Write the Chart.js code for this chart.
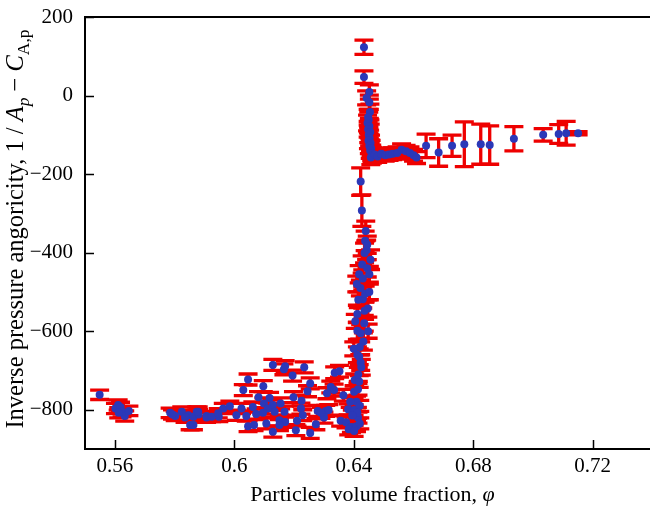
<!DOCTYPE html>
<html>
<head>
<meta charset="utf-8">
<script src="https://cdn.jsdelivr.net/npm/chart.js@4.4.1/dist/chart.umd.min.js"></script>
<style>
  html, body { margin: 0; padding: 0; background: #fff; }
  #wrap { width: 652px; height: 507px; }
</style>
</head>
<body>
<div id="wrap"><canvas id="chart"></canvas></div>
<script>
// volume fraction (x), inverse angoricity (y), half error (±)
const phi = [
  0.5549, 0.5611, 0.5602, 0.5619, 0.5624, 0.5633, 0.5613, 0.5647,
  0.5785, 0.5802, 0.5824, 0.5846, 0.5874, 0.5863, 0.5852, 0.5863, 0.5907, 0.5793, 0.5835, 0.5880,
  0.6129, 0.6170, 0.6166, 0.6234, 0.6195, 0.6046, 0.6097, 0.6030, 0.6254, 0.6245, 0.6310,
  0.6081, 0.6118, 0.6198, 0.6225, 0.6155, 0.6099, 0.6129, 0.6112, 0.5963, 0.5985, 0.6024,
  0.6062, 0.6168, 0.6223, 0.6279, 0.6306, 0.5879, 0.5907, 0.5948, 0.6007, 0.6040, 0.6073,
  0.6096, 0.6135, 0.6229, 0.6151, 0.6170, 0.6210, 0.6107, 0.6046, 0.6066, 0.6151, 0.6273,
  0.6129, 0.6206, 0.6254, 0.5924, 0.5946,
  0.6336, 0.6352, 0.6323, 0.6334, 0.6365, 0.6401, 0.6414, 0.6409, 0.6316, 0.6381, 0.6401,
  0.6414, 0.6356, 0.6374, 0.6392, 0.6409, 0.6383, 0.6401, 0.6403, 0.6418, 0.6420, 0.6412,
  0.6395, 0.6420, 0.6388, 0.6300, 0.6290,
  0.6423, 0.6427, 0.6443, 0.6436, 0.6456, 0.6418, 0.6430, 0.6430, 0.6447, 0.6436, 0.6412,
  0.6412, 0.6423, 0.6432, 0.6412, 0.6418, 0.6423, 0.6425, 0.6440, 0.6438, 0.6428, 0.6422,
  0.6435, 0.6420, 0.6438, 0.6415, 0.6445,
  0.6410, 0.6452, 0.6405, 0.6448, 0.6400, 0.6452, 0.6445, 0.6415,
  0.6434, 0.6434, 0.6452, 0.6443, 0.6452, 0.6454, 0.6448, 0.6450, 0.6446, 0.6452, 0.6448,
  0.6455, 0.6450, 0.6453, 0.6449, 0.6456, 0.6452, 0.6458, 0.6455, 0.6460, 0.6462, 0.6457,
  0.6470, 0.6480, 0.6492, 0.6505, 0.6518, 0.6530, 0.6545, 0.6560, 0.6575, 0.6588, 0.6600, 0.6610,
  0.6642, 0.6684, 0.6729, 0.6770, 0.6825, 0.6855, 0.6936, 0.7034, 0.7086, 0.7111, 0.7151
];
const angoricity = [
  -762, -788, -797, -794, -805, -816, -808, -803,
  -808, -816, -805, -814, -805, -818, -839, -839, -816, -812, -820, -812,
  -686, -689, -697, -692, -713, -723, -740, -750, -733, -753, -758,
  -768, -770, -768, -777, -784, -784, -788, -797, -797, -791, -797,
  -793, -805, -797, -803, -803, -805, -820, -818, -814, -816, -811,
  -808, -805, -814, -827, -831, -828, -835, -842, -839, -839, -837,
  -856, -852, -859, -818, -809,
  -706, -702, -742, -750, -763, -754, -748, -780, -801, -799, -801,
  -820, -828, -832, -844, -842, -850, -854, -724, -728, -790, -808,
  -815, -835, -780, -820, -808,
  -219, -293, -393, -401, -418, -455, -466, -519, -542, -548, -556,
  -599, -605, -626, -660, -665, -680, -692, -345, -370, -430, -490,
  -580, -640, -505, -710, -440,
  -480, -455, -575, -600, -645, -500, -380, -520,
  123, 47, 9, -6, -17, -42, -55, -62, -70, -78, -86,
  -93, -100, -108, -115, -121, -128, -134, -140, -146, -152, -158,
  -150, -155, -148, -152, -150, -148, -146, -138, -142, -146, -152, -158,
  -128, -145, -128, -124, -124, -126, -110, -100, -98, -96, -96
];
const errs = [
  12, 13, 13, 13, 13, 13, 13, 12,
  12, 12, 12, 12, 12, 12, 12, 12, 12, 12, 12, 12,
  14, 14, 14, 14, 14, 14, 14, 14, 14, 14, 14,
  14, 14, 14, 14, 14, 14, 14, 14, 13, 13, 13,
  13, 14, 14, 14, 14, 12, 12, 12, 13, 13, 13,
  13, 14, 14, 14, 14, 14, 14, 14, 14, 14, 14,
  14, 14, 14, 12, 12,
  15, 15, 15, 15, 15, 15, 15, 15, 14, 14, 14,
  14, 14, 14, 14, 14, 14, 14, 15, 15, 14, 14,
  14, 14, 14, 14, 14,
  35, 40, 25, 25, 25, 22, 22, 22, 22, 22, 22,
  22, 22, 22, 20, 20, 20, 20, 25, 25, 22, 20,
  20, 20, 20, 18, 22,
  20, 20, 18, 18, 18, 20, 22, 20,
  18, 16, 18, 18, 18, 20, 20, 20, 20, 20, 20,
  20, 20, 20, 20, 20, 20, 20, 20, 20, 20, 18,
  15, 15, 15, 15, 15, 15, 15, 15, 15, 15, 15, 15,
  30, 35, 27, 57, 51, 49, 31, 16, 24, 30, 4
];
const xTicks = [0.56, 0.6, 0.64, 0.68, 0.72];
const yTicks = [-800, -600, -400, -200, 0, 200];

const RED = '#ee0000';
const BLUE = '#2b38b8';
const FONT = "'Liberation Serif', 'Times New Roman', serif";
Chart.defaults.font.family = FONT;

const errorBars = {
  id: 'errorBars',
  beforeDatasetsDraw(chart) {
    const { ctx, chartArea: a, scales: { x, y } } = chart;
    ctx.save();
    ctx.beginPath();
    ctx.rect(a.left, a.top, a.right - a.left, a.bottom - a.top);
    ctx.clip();
    ctx.strokeStyle = RED;
    ctx.lineWidth = 3.3;
    phi.forEach((v, i) => {
      const px = x.getPixelForValue(v);
      const top = y.getPixelForValue(angoricity[i] + errs[i]);
      const bot = y.getPixelForValue(angoricity[i] - errs[i]);
      ctx.beginPath();
      ctx.moveTo(px, top); ctx.lineTo(px, bot);
      ctx.moveTo(px - 9.5, top); ctx.lineTo(px + 9.5, top);
      ctx.moveTo(px - 9.5, bot); ctx.lineTo(px + 9.5, bot);
      ctx.stroke();
    });
    ctx.restore();
  }
};

// frame, inward ticks, axis titles
function drawParts(ctx, parts, x0, y0) {
  let w = 0;
  parts.forEach(p => { ctx.font = p.font; w += ctx.measureText(p.t).width; });
  let cx = x0 - w / 2;
  parts.forEach(p => {
    ctx.font = p.font;
    ctx.fillText(p.t, cx, y0 + (p.dy || 0));
    cx += ctx.measureText(p.t).width;
  });
}

const frame = {
  id: 'frame',
  afterDraw(chart) {
    const { ctx, chartArea: a, scales: { x, y } } = chart;
    ctx.save();
    ctx.strokeStyle = '#000';
    ctx.lineWidth = 2;
    ctx.beginPath();
    ctx.moveTo(a.right + 2, a.top);
    ctx.lineTo(a.left, a.top);
    ctx.lineTo(a.left, a.bottom);
    ctx.lineTo(a.right + 2, a.bottom);
    ctx.stroke();
    ctx.lineWidth = 1.5;
    ctx.beginPath();
    xTicks.forEach(v => {
      const px = Math.round(x.getPixelForValue(v)) + 0.5;
      ctx.moveTo(px, a.bottom); ctx.lineTo(px, a.bottom - 9);
    });
    yTicks.forEach(v => {
      const py = Math.round(y.getPixelForValue(v)) + 0.5;
      ctx.moveTo(a.left, py); ctx.lineTo(a.left + 9, py);
    });
    ctx.stroke();

    ctx.fillStyle = '#000';
    ctx.textBaseline = 'alphabetic';
    ctx.textAlign = 'left';
    drawParts(ctx, [
      { t: 'Particles volume fraction, ', font: '22px ' + FONT },
      { t: 'φ', font: 'italic 22px ' + FONT }
    ], (a.left + a.right) / 2 + 6, 501);

    ctx.translate(23, 229);
    ctx.rotate(-Math.PI / 2);
    drawParts(ctx, [
      { t: 'Inverse pressure angoricity, 1 / ', font: '24.5px ' + FONT },
      { t: 'A', font: 'italic 24.5px ' + FONT },
      { t: 'p', font: 'italic 17.5px ' + FONT, dy: 6 },
      { t: ' \u2212 ', font: '24.5px ' + FONT },
      { t: 'C', font: 'italic 24.5px ' + FONT },
      { t: 'A,p', font: '17.5px ' + FONT, dy: 6 }
    ], 0, 0);
    ctx.restore();
  }
};

new Chart(document.getElementById('chart'), {
  type: 'scatter',
  data: {
    datasets: [{
      data: phi.map((v, i) => ({ x: v, y: angoricity[i] })),
      backgroundColor: BLUE,
      borderWidth: 0,
      pointRadius: 4,
      pointHoverRadius: 4
    }]
  },
  options: {
    responsive: true,
    maintainAspectRatio: false,
    animation: false,
    layout: { padding: { top: 17, right: 0, left: 0, bottom: 0 } },
    plugins: { legend: { display: false }, tooltip: { enabled: false } },
    scales: {
      x: {
        type: 'linear',
        min: 0.55, max: 0.7385,
        grid: { display: false, drawTicks: false },
        border: { display: false },
        afterFit: s => { s.height = 58; s.paddingLeft = 0; s.paddingRight = 0; },
        afterBuildTicks: s => { s.ticks = xTicks.map(v => ({ value: v })); },
        ticks: {
          color: '#000', padding: 5,
          font: { family: FONT, size: 21 },
          callback: v => String(v)
        }
      },
      y: {
        min: -900, max: 200,
        grid: { display: false, drawTicks: false },
        border: { display: false },
        afterFit: s => { s.width = 85; s.paddingTop = 0; s.paddingBottom = 0; },
        afterBuildTicks: s => { s.ticks = yTicks.map(v => ({ value: v })); },
        ticks: {
          color: '#000', padding: 12,
          font: { family: FONT, size: 21 },
          callback: v => String(v).replace('-', '\u2212')
        }
      }
    }
  },
  plugins: [errorBars, frame]
});
</script>
</body>
</html>
